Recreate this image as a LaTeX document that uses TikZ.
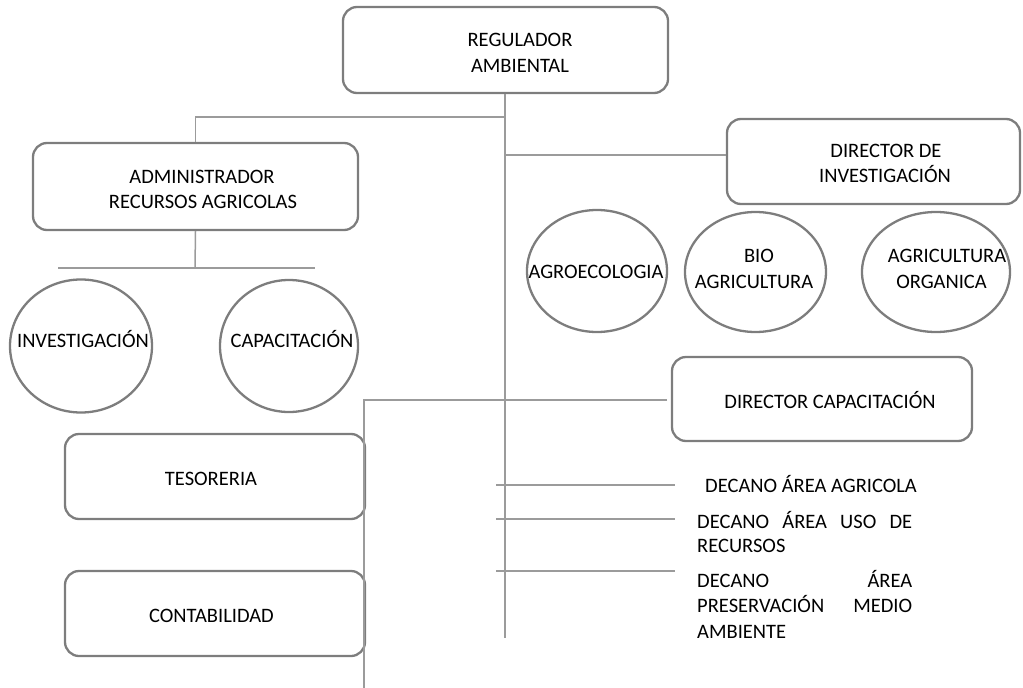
\documentclass[tikz,border=0pt]{standalone}
\usepackage{fontspec}
\setmainfont{Carlito}
\usetikzlibrary{shapes.geometric}
\definecolor{boxgray}{RGB}{125,125,125}
\definecolor{linegray}{RGB}{155,155,155}
\begin{document}
\begin{tikzpicture}[x=1pt,y=-1pt,
  box/.style={draw=boxgray, line width=2.3pt, rounded corners=14pt, inner sep=0pt},
  oval/.style={draw=boxgray, line width=2.3pt, ellipse, inner sep=0pt},
  lbl/.style={font=\fontsize{20.5}{25.5}\selectfont, inner sep=0pt, anchor=base, text=black},
  lblw/.style={lbl, anchor=base west},
  conn/.style={draw=linegray, line width=1.5pt}]
\useasboundingbox (0,0) rectangle (1023,688);

% boxes
\node[box, minimum width=325pt, minimum height=86pt] (reg) at (505.5,50) {};
\node[box, minimum width=325pt, minimum height=87pt] (adm) at (195.5,186.5) {};
\node[box, minimum width=293pt, minimum height=85pt] (dinv) at (873.5,161.5) {};
\node[box, minimum width=300pt, minimum height=84pt] (dcap) at (822,399) {};
\node[box, minimum width=300pt, minimum height=85pt] (tes) at (215,476.5) {};
\node[box, minimum width=300pt, minimum height=85pt] (con) at (215,613.5) {};

% ellipses
\node[oval, minimum width=142pt, minimum height=133pt] (einv) at (81,346) {};
\node[oval, minimum width=138pt, minimum height=132pt] (ecap) at (289,346) {};
\node[oval, minimum width=140pt, minimum height=122pt] (eagro) at (597,271) {};
\node[oval, minimum width=141pt, minimum height=120pt] (ebio) at (755.5,272) {};
\node[oval, minimum width=148pt, minimum height=120pt] (eorg) at (936,272) {};

% labels
\node[lbl] (reg1) at (520,46.5) {REGULADOR};
\node[lbl] (reg2) at (520,72.5) {AMBIENTAL};
\node[lbl] (adm1) at (202,183.5) {ADMINISTRADOR};
\node[lbl] (adm2) at (203,208.5) {RECURSOS AGRICOLAS};
\node[lbl] (dinv1) at (886,157.5) {DIRECTOR DE};
\node[lbl] (dinv2) at (885,182.5) {INVESTIGACIÓN};
\node[lbl] (dcap1) at (830,408) {DIRECTOR CAPACITACIÓN};
\node[lbl] (tes1) at (211,485.5) {TESORERIA};
\node[lbl] (con1) at (211.5,622.5) {CONTABILIDAD};
\node[lbl] (einv1) at (83,347.5) {INVESTIGACIÓN};
\node[lbl] (ecap1) at (292,347.5) {CAPACITACIÓN};
\node[lbl] (eagro1) at (596,278) {AGROECOLOGIA};
\node[lbl] (ebio1) at (759,262.5) {BIO};
\node[lbl] (ebio2) at (754,288) {AGRICULTURA};
\node[lbl] (eorg1) at (947,262.5) {AGRICULTURA};
\node[lbl] (eorg2) at (941.5,288) {ORGANICA};
\node[lblw] (dec1) at (705,492.5) {DECANO ÁREA AGRICOLA};
\node[lblw] (dec2a) at (697,528.5) {\makebox[215pt][s]{DECANO ÁREA USO DE}};
\node[lblw] (dec2b) at (697,552.5) {RECURSOS};
\node[lblw] (dec3a) at (697,587.5) {\makebox[215pt][s]{DECANO ÁREA}};
\node[lblw] (dec3b) at (697,612.5) {\makebox[215pt][s]{PRESERVACIÓN MEDIO}};
\node[lblw] (dec3c) at (697,638) {AMBIENTE};

% junction coordinates
\coordinate (mainend) at (505,638);
\coordinate (j1) at (505,117);
\coordinate (j2) at (505,155);
\coordinate (admj) at (195,268);
\coordinate (bl) at (58,268);
\coordinate (br) at (315,268);
\coordinate (cj) at (364,400);
\coordinate (cjend) at (364,688);
\coordinate (capend) at (667,400);
\coordinate (d1l) at (496,485);
\coordinate (d1r) at (675,485);
\coordinate (d2l) at (496,519);
\coordinate (d2r) at (675,519);
\coordinate (d3l) at (496,571);
\coordinate (d3r) at (675,571);

% connectors
\draw[conn] (reg.south -| mainend) -- (mainend);
\draw[conn] (j1) -- (j1 -| adm.north) -- (adm.north);
\draw[conn] (j2) -- (j2 -| dinv.west);
\draw[conn] (adm.south) -- (admj);
\draw[conn] (bl) -- (br);
\draw[conn] (capend) -- (cj) -- (cjend);
\draw[conn] (d1l) -- (d1r);
\draw[conn] (d2l) -- (d2r);
\draw[conn] (d3l) -- (d3r);
\end{tikzpicture}
\end{document}
